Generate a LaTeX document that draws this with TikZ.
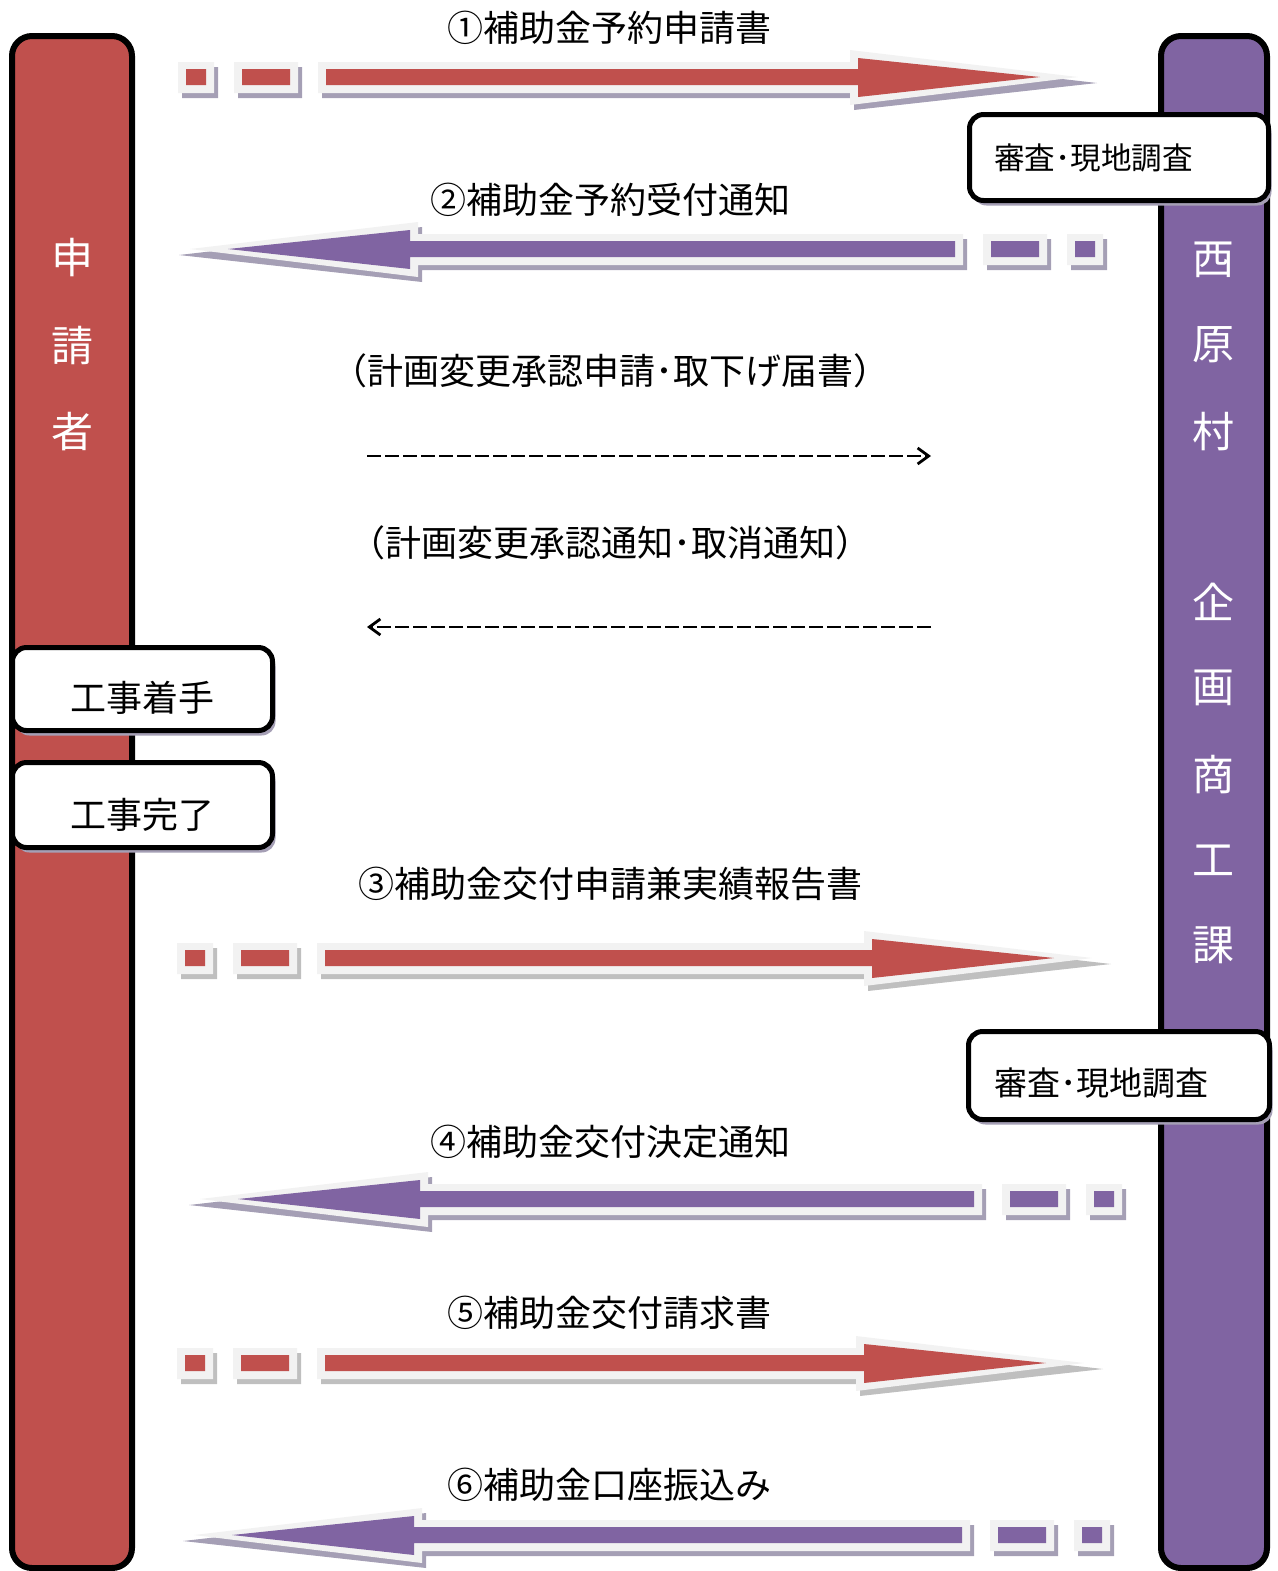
\documentclass[tikz,border=0pt]{standalone}
\usepackage{fontspec}
\setmainfont{Noto Sans CJK JP}
\usetikzlibrary{arrows.meta}
\usetikzlibrary{shadows}
\definecolor{appred}{HTML}{C0504D}
\definecolor{townpurple}{HTML}{8064A2}
\definecolor{glow}{HTML}{F2F2F2}
\definecolor{shadowpurple}{HTML}{A59FB5}
\definecolor{shadowgrey}{HTML}{BFBFBF}
\tikzset{lane/.style={draw=black, line width=3pt, rounded corners=10pt},
         lanetext/.style={text=white, font=\fontsize{21pt}{21pt}\selectfont},
         stepbox/.style={draw=black, fill=white, line width=2.5pt, rounded corners=7pt,
            drop shadow={shadow xshift=1.5pt, shadow yshift=-2.5pt, fill=shadowpurple, opacity=1}},
         checkbox/.style={stepbox, text width=125pt, align=left, inner xsep=12pt},
         doc/.style={font=\fontsize{18pt}{18pt}\selectfont},
         change/.style={line width=1.4pt, dash pattern=on 7pt off 2pt,
            -{Straight Barb[length=5.5pt,width=8pt]}},
         }
% #1 start x, #2 y, #3 direction, #4 head base, #5 fill, #6 shadow
\newcommand{\flowarrow}[6]{%
  \begin{scope}[shift={(#1,#2)}, xscale=#3]
    \fill[#6, shift={(4*#3,5)}] (0,-15) rectangle (36,16) (56,-15) rectangle (120,16)
      (140,-15) -- (#4,-15) -- (#4,-27) -- (#4+243,1) -- (#4,28) -- (#4,16) -- (140,16) -- cycle;
    \fill[glow] (0,-15) rectangle (36,16) (56,-15) rectangle (120,16)
      (140,-15) -- (#4,-15) -- (#4,-27) -- (#4+228,0) -- (#4,28) -- (#4,16) -- (140,16) -- cycle;
    \fill[#5] (8,-8) rectangle (28,8) (64,-8) rectangle (112,8)
      (148,-8) -- (#4+8,-8) -- (#4+8,-19) -- (#4+190,0) -- (#4+8,20) -- (#4+8,8) -- (148,8) -- cycle;
  \end{scope}}

\begin{document}
\begin{tikzpicture}[x=0.5pt, y=-0.5pt]
\useasboundingbox (0,0) rectangle (1278,1571);

% lanes
\draw[lane, fill=appred] (12,36) rectangle (132,1568);
\draw[lane, fill=townpurple] (1161,36) rectangle (1267,1568);
\foreach \ch/\yy [count=\i] in {申/258,請/345,者/432}
  \node[lanetext] (applicant\i) at (72,\yy) {\ch};
\foreach \ch/\yy [count=\i] in {西/260,原/345,村/432,企/602,画/688,商/775,工/860,課/945}
  \node[lanetext] (office\i) at (1213,\yy) {\ch};

% steps
\node[checkbox, minimum width=149.5pt, minimum height=43pt, font=\fontsize{15.3pt}{15.3pt}\selectfont]
  (check1) at (1119,157.5) {審査･現地調査};
\node[checkbox, minimum width=150.5pt, minimum height=44pt, text height=21.6pt, text depth=2pt,
  font=\fontsize{16.5pt}{16.5pt}\selectfont] (check2) at (1119,1075.5) {審査･現地調査};
\node[stepbox, minimum width=130pt, minimum height=41.5pt, text height=24.6pt, text depth=2pt,
  font=\fontsize{18pt}{18pt}\selectfont] (start) at (142.5,689) {工事着手};
\node[stepbox, minimum width=130pt, minimum height=42.5pt, text height=25.6pt, text depth=2pt,
  font=\fontsize{18pt}{18pt}\selectfont] (finish) at (142.5,805) {工事完了};

% flows
\flowarrow{178}{77}{1}{672}{appred}{shadowpurple}
\flowarrow{1103}{249}{-1}{685}{townpurple}{shadowpurple}
\flowarrow{177}{958}{1}{687}{appred}{shadowgrey}
\flowarrow{1122}{1199}{-1}{694}{townpurple}{shadowpurple}
\flowarrow{177}{1363}{1}{679}{appred}{shadowgrey}
\flowarrow{1110}{1535}{-1}{688}{townpurple}{shadowpurple}

\node[doc] (doc1) at (609,28) {①補助金予約申請書};
\node[doc] (doc2) at (610,200) {②補助金予約受付通知};
\node[doc] (doc3) at (610,884) {③補助金交付申請兼実績報告書};
\node[doc] (doc4) at (610,1142) {④補助金交付決定通知};
\node[doc] (doc5) at (609,1313) {⑤補助金交付請求書};
\node[doc] (doc6) at (609,1485) {⑥補助金口座振込み};

% plan changes
\node[doc] (req) at (610,371) {（計画変更承認申請･取下げ届書）};
\node[doc] (ans) at (610,543) {（計画変更承認通知･取消通知）};
\coordinate (reqs) at (367,456);
\coordinate (reqe) at (931,456);
\coordinate (anss) at (931,627);
\coordinate (anse) at (367,627);
\draw[change] (reqs) -- (reqe);
\draw[change] (anss) -- (anse);
\end{tikzpicture}
\end{document}
